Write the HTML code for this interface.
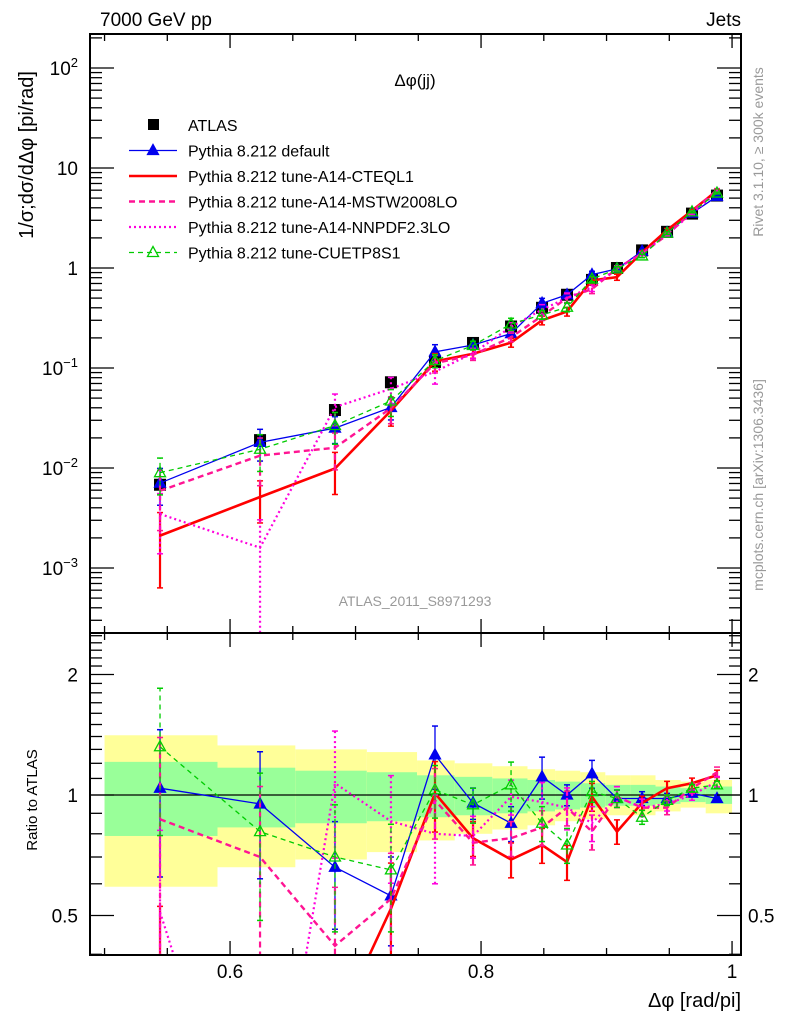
<!DOCTYPE html>
<html><head><meta charset="utf-8"><style>
html,body{margin:0;padding:0;background:#fff;width:786px;height:1024px;overflow:hidden;}
svg{display:block;font-family:"Liberation Sans","DejaVu Sans",sans-serif;}
</style></head><body>
<svg id="c" width="786" height="1024" viewBox="0 0 786 1024" xmlns="http://www.w3.org/2000/svg"></svg>
<script>
const xVals=[0.5442,0.6239,0.6836,0.7282,0.7633,0.7936,0.8239,0.8486,0.8685,0.8884,0.9083,0.9283,0.9482,0.9681,0.9880];
const binEdges=[0.5,0.59,0.652,0.709,0.749,0.779,0.809,0.837,0.859,0.879,0.899,0.919,0.939,0.959,0.979,1.0];
const dataVals=[0.0068,0.019,0.038,0.072,0.115,0.178,0.26,0.40,0.54,0.76,1.0,1.5,2.3,3.5,5.3];
const yelHi=[1.41,1.33,1.30,1.28,1.22,1.20,1.18,1.16,1.15,1.14,1.12,1.12,1.09,1.08,1.09];
const yelLo=[0.59,0.66,0.69,0.72,0.77,0.80,0.82,0.84,0.86,0.87,0.89,0.89,0.91,0.93,0.90];
const grnHi=[1.21,1.17,1.15,1.14,1.12,1.11,1.10,1.09,1.08,1.07,1.06,1.06,1.05,1.04,1.05];
const grnLo=[0.79,0.83,0.85,0.86,0.88,0.89,0.90,0.91,0.92,0.93,0.94,0.94,0.95,0.96,0.95];
const ratioDefault=[1.04,0.95,0.66,0.56,1.26,0.955,0.85,1.11,1.0,1.13,0.98,0.98,0.98,1.01,0.98];
const ratioCTEQ=[0.31,0.27,0.26,0.52,1.01,0.78,0.69,0.75,0.68,0.99,0.81,0.955,1.04,1.07,1.12];
const ratioMSTW=[0.87,0.70,0.42,0.55,0.97,0.76,0.78,0.83,0.93,0.81,0.99,0.93,0.93,1.04,1.14];
const ratioNNPDF=[0.51,0.084,1.07,0.86,0.80,0.79,0.99,0.96,0.93,0.85,0.99,0.93,0.95,1.0,1.08];
const ratioCUETP=[1.32,0.81,0.70,0.65,1.03,0.945,1.06,0.85,0.75,1.02,0.98,0.88,0.97,1.04,1.06];
const errDefault=[0.4,0.35,0.3,0.25,0.18,0.09,0.1,0.12,0.06,0.08,0.05,0.04,0.03,0.02,0.02];
const errCTEQ=[0.7,0.45,0.45,0.3,0.2,0.1,0.1,0.1,0.1,0.08,0.07,0.04,0.04,0.03,0.03];
const errMSTW=[0.6,0.5,0.4,0.3,0.2,0.12,0.1,0.1,0.1,0.1,0.06,0.05,0.04,0.03,0.03];
const errNNPDF=[0.6,0.9,0.35,0.3,0.25,0.12,0.1,0.12,0.12,0.1,0.06,0.05,0.04,0.03,0.03];
const errCUETP=[0.4,0.4,0.35,0.3,0.15,0.1,0.14,0.1,0.1,0.06,0.05,0.04,0.03,0.02,0.02];

const NS="http://www.w3.org/2000/svg";
const svg=document.getElementById('c');
const L=90,R=741,T=34,MB=633,RB=955;
function X(v){return 92+(v-0.49)*1255;}
function YM(v){return 268-100*Math.log10(v);}
function YR(r){return 795-120.5*Math.log2(r);}
function el(tag,attrs,parent){const e=document.createElementNS(NS,tag);for(const k in attrs)e.setAttribute(k,attrs[k]);(parent||svg).appendChild(e);return e;}
function txt(s,attrs,parent){const e=el('text',attrs,parent);e.textContent=s;return e;}

const defs=el('defs',{});
const cm=el('clipPath',{id:'cm'},defs);el('rect',{x:L,y:T,width:R-L,height:MB-T},cm);
const cr=el('clipPath',{id:'cr'},defs);el('rect',{x:L,y:MB,width:R-L,height:RB-MB},cr);

const gBands=el('g',{'clip-path':'url(#cr)'});


for(let i=0;i<binEdges.length-1;i++){
  const x0=X(binEdges[i]),x1=X(binEdges[i+1]);
  const y=el('rect',{x:x0,y:YR(yelHi[i]),width:x1-x0,height:YR(yelLo[i])-YR(yelHi[i]),fill:'#ffff99'},gBands);
  
  
  const g=el('rect',{x:x0,y:YR(grnHi[i]),width:x1-x0,height:YR(grnLo[i])-YR(grnHi[i]),fill:'#99ff99'},gBands);
  
  
}
el('line',{x1:L,x2:R,y1:YR(1),y2:YR(1),stroke:'#000','stroke-width':1.2});

const series=[
 {name:'default',r:ratioDefault,e:errDefault,color:'#0000ee',w:1.3,dash:'',mk:'tri-fill'},
 {name:'cteql1',r:ratioCTEQ,e:errCTEQ,color:'#ff0000',w:2.6,dash:'',mk:''},
 {name:'mstw2008lo',r:ratioMSTW,e:errMSTW,color:'#ff1493',w:2.4,dash:'6,4',mk:''},
 {name:'nnpdf23lo',r:ratioNNPDF,e:errNNPDF,color:'#ff00dd',w:2.2,dash:'2,3',mk:''},
 {name:'cuetp8s1',r:ratioCUETP,e:errCUETP,color:'#00cc00',w:1.3,dash:'5,4',mk:'tri-open'}
];
function tri(g,x,y,c,fill){return el('polygon',{points:`${x},${y-6} ${x-5.5},${y+4} ${x+5.5},${y+4}`,fill:fill?c:'#fff','fill-opacity':fill?1:0,stroke:c,'stroke-width':1.3},g);}

function drawSeries(pane){
  const clip=pane==='main'?'url(#cm)':'url(#cr)';
  series.forEach(s=>{
    const g=el('g',{'clip-path':clip});
    
    
    const val=i=>pane==='main'?dataVals[i]*s.r[i]:s.r[i];
    const Y=pane==='main'?YM:YR;
    xVals.forEach((xv,i)=>{
      const v=val(i),e=s.e[i];
      const lo=Math.max(v*(1-e),v*0.02),hi=v*(1+e);
      const x=X(xv);
      el('line',{x1:x,x2:x,y1:Y(lo),y2:Y(hi),stroke:s.color,'stroke-width':Math.min(s.w,2.2),'stroke-dasharray':s.dash},g);
      el('line',{x1:x-3,x2:x+3,y1:Y(lo),y2:Y(lo),stroke:s.color,'stroke-width':1.5},g);
      el('line',{x1:x-3,x2:x+3,y1:Y(hi),y2:Y(hi),stroke:s.color,'stroke-width':1.5},g);
    });
    const pts=xVals.map((xv,i)=>X(xv)+','+Y(val(i))).join(' ');
    const pl=el('polyline',{points:pts,fill:'none',stroke:s.color,'stroke-width':s.w,'stroke-dasharray':s.dash},g);
    
    
    if(s.mk){xVals.forEach((xv,i)=>{const m=tri(g,X(xv),Y(val(i)),s.color,s.mk==='tri-fill');
      
      });}
  });
}
const gd=el('g',{'clip-path':'url(#cm)'});


xVals.forEach((xv,i)=>{
  const r=el('rect',{x:X(xv)-6,y:YM(dataVals[i])-6,width:12,height:12,fill:'#000'},gd);
  
  
});
drawSeries('main');
drawSeries('ratio');

const f1=el('rect',{x:L,y:T,width:R-L,height:MB-T,fill:'none',stroke:'#000','stroke-width':2});


const f2=el('rect',{x:L,y:MB,width:R-L,height:RB-MB,fill:'none',stroke:'#000','stroke-width':2});



for(let k=0;k<=10;k++){
  const v=0.5+0.05*k;const x=X(v);if(x>R)continue;
  const major=Math.abs(v*10-Math.round(v*10))<1e-6 && Math.round(v*10)%2===0;
  const len=major?14:7;
  [[T,1],[MB,-1],[MB,1],[RB,-1]].forEach(([y,d])=>el('line',{x1:x,x2:x,y1:y,y2:y+d*len,stroke:'#000','stroke-width':1.3}));
}
const xTickLabels=['0.6','0.8','1'];
const xTickVals=[0.6,0.8,1.0];
xTickVals.forEach((v,i)=>{const t=txt(xTickLabels[i],{x:X(v),y:978,'font-size':19,'text-anchor':'middle'});
  
  });

for(let d=-4;d<=2;d++){
  for(let m=1;m<10;m++){
    const v=m*Math.pow(10,d);const y=YM(v);if(y<T||y>MB)continue;
    const len=m===1?24:12;
    el('line',{x1:L,x2:L+len,y1:y,y2:y,stroke:'#000','stroke-width':1.3});
    el('line',{x1:R,x2:R-len,y1:y,y2:y,stroke:'#000','stroke-width':1.3});
  }
}
const yMainLabels=[['10','2',2],['10','',1],['1','',0],['10','−1',-1],['10','−2',-2],['10','−3',-3]];
yMainLabels.forEach(([b,e,p])=>{
  const t=el('text',{x:78,y:YM(Math.pow(10,p))+7,'font-size':19,'text-anchor':'end'});
  
  
  t.appendChild(document.createTextNode(b));
  if(e){const s=el('tspan',{dy:-8,'font-size':13},t);s.textContent=e;}
});
for(let r=0.3;r<=2.6;r+=0.1){
  const rr=Math.round(r*10)/10;const y=YR(rr);if(y<MB||y>RB)continue;
  const major=(rr===0.5||rr===1||rr===2);const len=major?24:12;
  el('line',{x1:L,x2:L+len,y1:y,y2:y,stroke:'#000','stroke-width':1.3});
  el('line',{x1:R,x2:R-len,y1:y,y2:y,stroke:'#000','stroke-width':1.3});
}
[['2',2],['1',1],['0.5',0.5]].forEach(([s,v])=>{
  const a=txt(s,{x:78,y:YR(v)+7,'font-size':19,'text-anchor':'end'});
  
  
  const b=txt(s,{x:748,y:YR(v)+7,'font-size':19});
  
  
});

function T2(s,a,name){const t=txt(s,a);return t;}
T2('7000 GeV pp',{x:100,y:26,'font-size':19},'header-energy');
T2('Jets',{x:741,y:26,'font-size':19,'text-anchor':'end'},'header-process');
T2('Δφ(jj)',{x:415,y:86,'font-size':17,'text-anchor':'middle'},'plot-title');
T2('1/σ;dσ/dΔφ [pi/rad]',{x:0,y:0,'font-size':20,'text-anchor':'middle',transform:'translate(33,155) rotate(-90)'},'y-axis-title');
T2('Ratio to ATLAS',{x:0,y:0,'font-size':15,'text-anchor':'middle',transform:'translate(37,800) rotate(-90)'},'ratio-axis-title');
T2('Δφ [rad/pi]',{x:741,y:1007,'font-size':20,'text-anchor':'end'},'x-axis-title');
T2('ATLAS_2011_S8971293',{x:415,y:606,'font-size':14,fill:'#999','text-anchor':'middle'},'analysis-id');
T2('Rivet 3.1.10, ≥ 300k events',{x:0,y:0,'font-size':14,fill:'#999','text-anchor':'middle',transform:'translate(763,152) rotate(-90)'},'rivet-label');
T2('mcplots.cern.ch [arXiv:1306.3436]',{x:0,y:0,'font-size':14,fill:'#999','text-anchor':'middle',transform:'translate(763,485) rotate(-90)'},'mcplots-label');

const leg=el('g',{});


const legLabels=['ATLAS','Pythia 8.212 default','Pythia 8.212 tune-A14-CTEQL1','Pythia 8.212 tune-A14-MSTW2008LO','Pythia 8.212 tune-A14-NNPDF2.3LO','Pythia 8.212 tune-CUETP8S1'];
legLabels.forEach((lab,i)=>{
  const y=125+25.5*i;
  const g=el('g',{},leg);
  
  
  if(i===0){el('rect',{x:148,y:y-6,width:11,height:11,fill:'#000'},g);}
  else{const s=series[i-1];
    el('line',{x1:129,x2:177,y1:y,y2:y,stroke:s.color,'stroke-width':Math.min(s.w,2.4),'stroke-dasharray':s.dash},g);
    if(s.mk)tri(g,153,y,s.color,s.mk==='tri-fill');}
  txt(lab,{x:188,y:y+6,'font-size':16},g);
});
</script>
</body></html>
